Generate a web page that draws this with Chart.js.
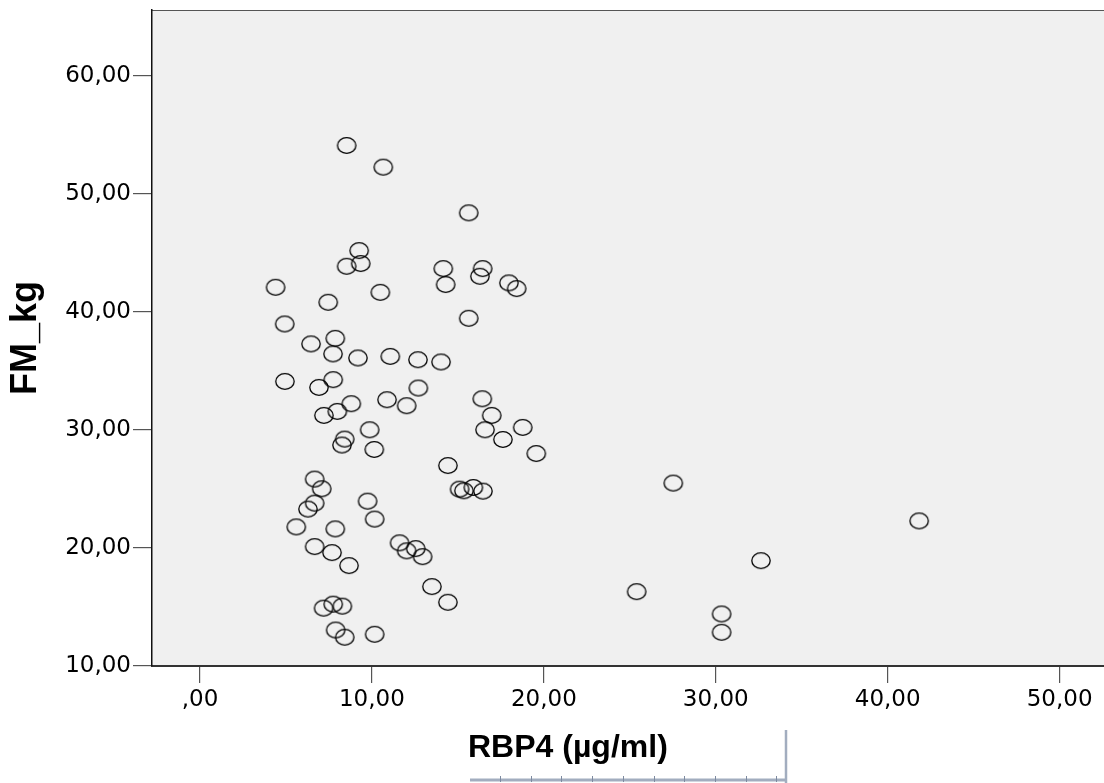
<!DOCTYPE html>
<html>
<head>
<meta charset="utf-8">
<script src="https://cdn.jsdelivr.net/npm/chart.js@4/dist/chart.umd.min.js"></script>
<style>
  html, body { margin: 0; padding: 0; background: #fff; }
  canvas { display: block; }
</style>
</head>
<body>
<canvas id="scatter" width="1104" height="783"></canvas>
<script>
// RBP4 (µg/ml) against fat mass (kg), one entry per subject
var rbp4 = [
  8.53, 10.66, 15.63, 9.26, 9.35, 8.53, 14.15, 16.44, 16.28, 14.29,
  17.97, 18.42, 4.40, 7.46, 10.49, 4.93, 15.63, 6.46, 7.87, 7.74,
  9.19, 11.07, 12.68, 14.02, 4.94, 6.92, 7.75, 7.21, 7.99, 8.80,
  10.88, 12.02, 12.70, 16.42, 16.97, 16.58, 17.62, 18.77, 19.56, 8.42,
  8.26, 9.87, 10.14, 14.42, 15.10, 15.35, 15.90, 16.46, 6.67, 7.08,
  6.67, 6.28, 5.60, 7.87, 9.75, 10.16, 6.67, 7.68, 8.67, 11.61,
  12.02, 12.55, 12.95, 13.49, 14.42, 7.19, 7.75, 8.28, 7.89, 8.42,
  10.16, 27.53, 41.83, 32.63, 25.40, 30.34, 30.34
];
var fmKg = [
  54.12, 52.28, 48.41, 45.21, 44.11, 43.88, 43.68, 43.68, 43.03, 42.33,
  42.47, 41.99, 42.10, 40.83, 41.67, 38.99, 39.47, 37.30, 37.77, 36.45,
  36.11, 36.24, 35.96, 35.77, 34.12, 33.61, 34.27, 31.24, 31.58, 32.23,
  32.57, 32.06, 33.56, 32.65, 31.24, 30.02, 29.20, 30.22, 28.01, 29.23,
  28.73, 30.02, 28.35, 26.99, 24.99, 24.85, 25.13, 24.82, 25.84, 25.02,
  23.80, 23.30, 21.79, 21.62, 23.97, 22.45, 20.12, 19.61, 18.51, 20.44,
  19.76, 19.95, 19.27, 16.73, 15.40, 14.90, 15.24, 15.07, 13.05, 12.44,
  12.69, 25.50, 22.30, 18.93, 16.30, 14.41, 12.86
];

var xTicks = [0, 10, 20, 30, 40, 50];
var xTickLabels = [',00', '10,00', '20,00', '30,00', '40,00', '50,00'];
var yTicks = [10, 20, 30, 40, 50, 60];
var yTickLabels = ['10,00', '20,00', '30,00', '40,00', '50,00', '60,00'];

var xTitle = 'RBP4 (µg/ml)';
var yTitle = 'FM_kg';

// hollow ellipse marker
function ringMarker() {
  var c = document.createElement('canvas');
  c.width = 22;
  c.height = 19;
  var g = c.getContext('2d');
  g.strokeStyle = '#000';
  g.lineWidth = 1.3;
  g.beginPath();
  g.ellipse(11, 9.5, 9.2, 7.8, 0, 0, Math.PI * 2);
  g.stroke();
  return c;
}

var points = rbp4.map(function (v, i) { return { x: v, y: fmKg[i] }; });

// grey plot background, top frame line, moved x title with its edit frame
var frame = {
  id: 'frame',
  beforeDraw: function (chart) {
    var a = chart.chartArea, ctx = chart.ctx;
    ctx.save();
    ctx.fillStyle = '#fff';
    ctx.fillRect(0, 0, chart.width, chart.height);
    ctx.fillStyle = '#f0f0f0';
    ctx.fillRect(a.left, a.top, a.right - a.left, a.bottom - a.top);
    ctx.strokeStyle = '#555';
    ctx.lineWidth = 1;
    ctx.beginPath();
    ctx.moveTo(a.left, a.top + 0.5);
    ctx.lineTo(a.right, a.top + 0.5);
    ctx.stroke();
    ctx.restore();
  },
  afterDraw: function (chart) {
    var a = chart.chartArea, ctx = chart.ctx;
    var tx = a.left + 316, ty = a.bottom + 91;
    ctx.save();
    ctx.fillStyle = '#000';
    ctx.font = 'bold 32px "Liberation Sans", Arial, sans-serif';
    ctx.textAlign = 'left';
    ctx.textBaseline = 'alphabetic';
    ctx.fillText(xTitle, tx, ty);

    // selection box edges around the title
    var bx0 = tx + 2, bx1 = tx + 318, by = chart.height - 3;
    ctx.strokeStyle = '#a2adbf';
    ctx.lineWidth = 3;
    ctx.beginPath();
    ctx.moveTo(bx0, by);
    ctx.lineTo(bx1, by);
    ctx.stroke();
    ctx.lineWidth = 2.5;
    ctx.beginPath();
    ctx.moveTo(bx1, ty - 27);
    ctx.lineTo(bx1, chart.height);
    ctx.stroke();
    ctx.strokeStyle = '#7d8aa0';
    ctx.lineWidth = 1;
    for (var x = bx0 + 30; x < bx1; x += 30.7) {
      ctx.beginPath();
      ctx.moveTo(Math.round(x) + 0.5, by - 4);
      ctx.lineTo(Math.round(x) + 0.5, by + 2);
      ctx.stroke();
    }
    ctx.restore();
  }
};

var tickFont = { family: '"DejaVu Sans", sans-serif', size: 23 };

new Chart(document.getElementById('scatter').getContext('2d'), {
  type: 'scatter',
  data: {
    datasets: [{
      data: points,
      pointStyle: ringMarker(),
      pointRadius: 9,
      pointHoverRadius: 9
    }]
  },
  options: {
    responsive: false,
    animation: false,
    devicePixelRatio: 1,
    events: [],
    layout: { autoPadding: false, padding: { top: 10, left: 0, right: 0, bottom: 0 } },
    plugins: { legend: { display: false }, tooltip: { enabled: false } },
    scales: {
      x: {
        type: 'linear',
        min: -2.79,
        max: 52.58,
        afterBuildTicks: function (s) { s.ticks = xTicks.map(function (v) { return { value: v }; }); },
        afterFit: function (s) { s.height = 117; s.paddingLeft = 0; s.paddingRight = 0; },
        ticks: {
          autoSkip: false,
          maxRotation: 0,
          padding: 3,
          color: '#000',
          font: tickFont,
          callback: function (v, i) { return xTickLabels[i]; }
        },
        grid: { drawOnChartArea: false, drawTicks: true, tickLength: 17, tickColor: '#555', lineWidth: 1.2 },
        border: { display: true, color: '#333', width: 2 },
        title: { display: false }
      },
      y: {
        type: 'linear',
        min: 10,
        max: 65.6,
        afterBuildTicks: function (s) { s.ticks = yTicks.map(function (v) { return { value: v }; }); },
        afterFit: function (s) { s.width = 152; s.paddingTop = 0; s.paddingBottom = 0; },
        ticks: {
          autoSkip: false,
          padding: 2,
          color: '#000',
          font: tickFont,
          callback: function (v, i) { return yTickLabels[i]; }
        },
        grid: { drawOnChartArea: false, drawTicks: true, tickLength: 19, tickColor: '#555', lineWidth: 1.2 },
        border: { display: true, color: '#111', width: 1.5 },
        title: {
          display: true,
          text: yTitle,
          color: '#000',
          font: { family: '"Liberation Sans", Arial, sans-serif', size: 36, weight: 'bold' },
          padding: { top: 4, bottom: 0 }
        }
      }
    }
  },
  plugins: [frame]
});
</script>
</body>
</html>
